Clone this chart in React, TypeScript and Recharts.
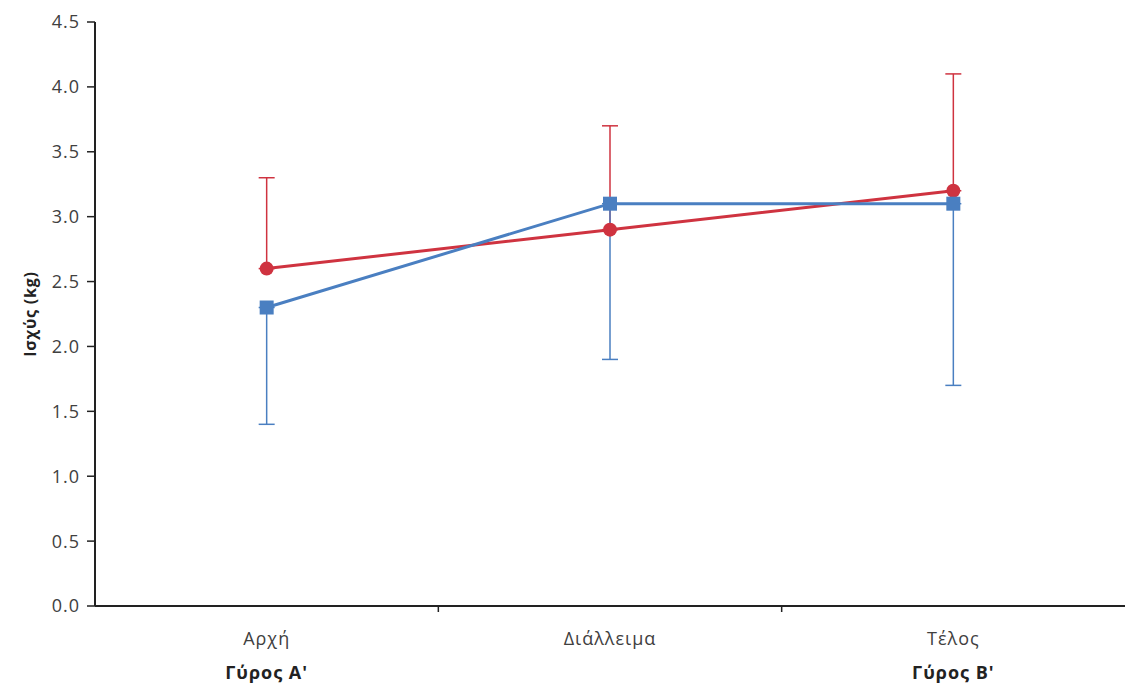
import { ErrorBar, Label, Line, LineChart, XAxis, YAxis } from "recharts";

// κατηγορίες άξονα Χ
const categories = ["Αρχή", "Διάλλειμα", "Τέλος"];
const roundLabels = ["Γύρος Α'", "", "Γύρος Β'"];

// κόκκινη σειρά (κύκλοι) – σφάλμα μόνο προς τα πάνω
const redMean = [2.6, 2.9, 3.2];
const redErrUp = [0.7, 0.8, 0.9];

// μπλε σειρά (τετράγωνα) – σφάλμα μόνο προς τα κάτω
const blueMean = [2.3, 3.1, 3.1];
const blueErrDown = [0.9, 1.2, 1.4];

const yTicks = [0, 0.5, 1, 1.5, 2, 2.5, 3, 3.5, 4, 4.5];

const RED = "#CF3340";
const BLUE = "#4A7FC1";
const FONT = "'Open Sans', 'DejaVu Sans', sans-serif";

const W = 1125;
const H = 687;
const LEFT = 95;
const TOP = 22;
const AXIS_Y = 606;
const BAND = (W - LEFT) / categories.length;

const data = categories.map((name, i) => ({
  name,
  red: redMean[i],
  redErr: [0, redErrUp[i]],
  blue: blueMean[i],
  blueErr: [blueErrDown[i], 0],
}));

function SquareDot(props: any) {
  const { cx, cy } = props;
  if (cx == null || cy == null) return null;
  return <rect x={cx - 7} y={cy - 7} width={14} height={14} fill={BLUE} />;
}

function CircleDot(props: any) {
  const { cx, cy } = props;
  if (cx == null || cy == null) return null;
  return <circle cx={cx} cy={cy} r={7} fill={RED} />;
}

function XTick(props: any) {
  const { x, payload, index } = props;
  const round = roundLabels[index];
  return (
    <g>
      {index < categories.length - 1 && (
        <line
          x1={x + BAND / 2}
          x2={x + BAND / 2}
          y1={AXIS_Y}
          y2={AXIS_Y + 6}
          stroke="#222"
          strokeWidth={1.5}
        />
      )}
      <text
        x={x}
        y={AXIS_Y + 39}
        textAnchor="middle"
        fontSize={18}
        letterSpacing={1}
        fill="#404040"
        fontFamily={FONT}
      >
        {payload.value}
      </text>
      {round && (
        <text
          x={x}
          y={AXIS_Y + 73}
          textAnchor="middle"
          fontSize={18}
          letterSpacing={1}
          fontWeight="bold"
          fill="#222"
          fontFamily={FONT}
        >
          {round}
        </text>
      )}
    </g>
  );
}

function YLabel() {
  const cx = 30;
  const cy = (TOP + AXIS_Y) / 2;
  return (
    <text
      x={cx}
      y={cy}
      transform={`rotate(-90 ${cx} ${cy})`}
      textAnchor="middle"
      dominantBaseline="central"
      fontSize={16}
      letterSpacing={0.8}
      fontWeight="bold"
      fill="#222"
      fontFamily={FONT}
    >
      Ισχύς (kg)
    </text>
  );
}

export default function App() {
  return (
    <div style={{ position: "absolute", left: 0, top: 0, width: W, height: H, background: "#fff" }}>
      <LineChart width={W} height={H} data={data} margin={{ top: TOP, right: 0, bottom: 0, left: 0 }}>
        <XAxis
          dataKey="name"
          height={H - AXIS_Y}
          padding={{ left: BAND / 2, right: BAND / 2 }}
          axisLine={{ stroke: "#222", strokeWidth: 2 }}
          tickLine={false}
          tick={<XTick />}
          interval={0}
        />
        <YAxis
          width={LEFT}
          domain={[0, 4.5]}
          ticks={yTicks}
          tickFormatter={(v: number) => v.toFixed(1)}
          axisLine={{ stroke: "#222", strokeWidth: 2 }}
          tickLine={{ stroke: "#222", strokeWidth: 1.5 }}
          tickSize={8}
          tickMargin={7}
          tick={{ fontSize: 18, letterSpacing: 1, fill: "#404040", fontFamily: FONT }}
        >
          <Label content={<YLabel />} />
        </YAxis>
        <Line
          dataKey="red"
          stroke={RED}
          strokeWidth={3}
          dot={<CircleDot />}
          activeDot={false}
          isAnimationActive={false}
        >
          <ErrorBar dataKey="redErr" width={8} stroke={RED} strokeWidth={1.5} direction="y" />
        </Line>
        <Line
          dataKey="blue"
          stroke={BLUE}
          strokeWidth={3}
          dot={<SquareDot />}
          activeDot={false}
          isAnimationActive={false}
        >
          <ErrorBar dataKey="blueErr" width={8} stroke={BLUE} strokeWidth={1.5} direction="y" />
        </Line>
      </LineChart>
    </div>
  );
}
